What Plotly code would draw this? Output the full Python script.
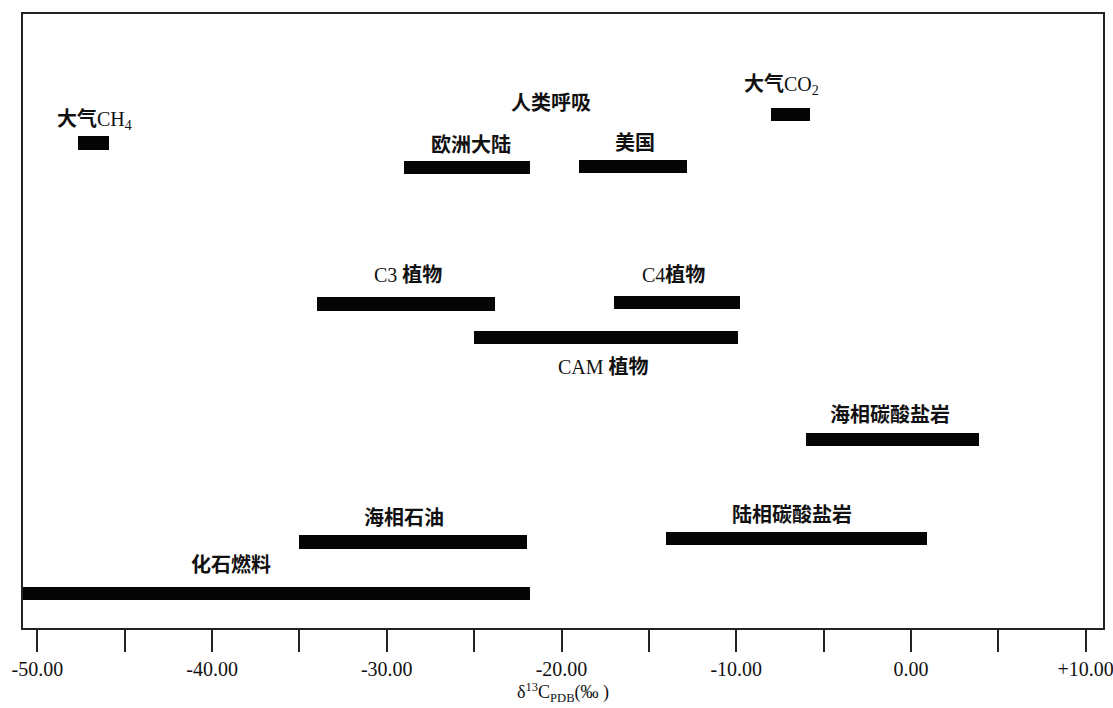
import plotly.graph_objects as go

# ---- data (δ13C ranges, ‰ PDB) ----
bar_names = ["大气CH4", "欧洲大陆", "美国", "大气CO2", "C3植物", "C4植物", "CAM植物",
             "海相碳酸盐岩", "海相石油", "陆相碳酸盐岩", "化石燃料"]
bar_start = [-47.7, -29.0, -19.0, -8.0, -34.0, -17.0, -25.0, -6.0, -35.0, -14.0, -51.5]
bar_end   = [-45.9, -21.8, -12.8, -5.8, -23.8, -9.8, -9.9, 3.9, -22.0, 0.9, -21.8]
bar_row   = [79.0, 75.0, 75.2, 83.6, 52.8, 53.0, 47.3, 30.7, 14.0, 14.6, 5.6]

label_text = ["<b>大气</b>CH<sub>4</sub>", "<b>人类呼吸</b>", "<b>欧洲大陆</b>", "<b>美国</b>",
              "<b>大气</b>CO<sub>2</sub>", "C3 <b>植物</b>", "C4<b>植物</b>", "CAM <b>植物</b>",
              "<b>海相碳酸盐岩</b>", "<b>海相石油</b>", "<b>陆相碳酸盐岩</b>", "<b>化石燃料</b>"]
label_x = [-46.7, -20.6, -25.2, -15.8, -7.4, -28.8, -13.6, -17.6, -1.2, -29.0, -6.8, -38.9]
label_y = [82.7, 85.5, 78.7, 79.0, 88.4, 57.5, 57.5, 42.6, 34.7, 17.9, 18.4, 10.3]

major_ticks = [-50, -40, -30, -20, -10, 0, 10]
major_text = ["-50.00", "-40.00", "-30.00", "-20.00", "-10.00", "0.00", "+10.00"]
minor_ticks = [-45, -35, -25, -15, -5, 5]

FONT = "Liberation Serif, 'Noto Sans CJK SC', serif"

fig = go.Figure()
fig.add_trace(go.Bar(
    orientation="h",
    y=bar_row,
    x=[e - s for s, e in zip(bar_start, bar_end)],
    base=bar_start,
    width=2.2,
    marker=dict(color="#050505", line=dict(width=0)),
    hovertext=bar_names,
    showlegend=False,
))

for t, x, y in zip(label_text, label_x, label_y):
    fig.add_annotation(x=x, y=y, text=t, showarrow=False, xanchor="center", yanchor="middle",
                       font=dict(family=FONT, size=20, color="#111"))

fig.update_layout(
    width=1113, height=708,
    margin=dict(l=23, r=10, t=14, b=80),
    paper_bgcolor="white", plot_bgcolor="white",
    font=dict(family=FONT, size=20, color="#111"),
    bargap=0,
    xaxis=dict(
        range=[-50.82, 10.99],
        automargin=False,
        tickvals=major_ticks, ticktext=major_text,
        ticks="outside", ticklen=22, tickwidth=1.5, tickcolor="#222",
        minor=dict(tickvals=minor_ticks, ticks="outside", ticklen=22, tickwidth=1.5,
                   tickcolor="#222", showgrid=False),
        ticklabeloverflow="allow",
        showline=True, linecolor="#222", linewidth=1.5, mirror=True,
        showgrid=False, zeroline=False,
        tickfont=dict(family=FONT, size=20, color="#111"),
        title=dict(text="δ<sup>13</sup>C<sub>PDB</sub>(‰ )", standoff=4,
                   font=dict(family=FONT, size=18, color="#111")),
    ),
    yaxis=dict(
        range=[0, 100],
        automargin=False,
        showticklabels=False, ticks="",
        showline=True, linecolor="#222", linewidth=1.5, mirror=True,
        showgrid=False, zeroline=False,
    ),
)

fig.write_html("out.html", config={"displayModeBar": False})

# remove the default page margin so the 1113x708 figure fills the window exactly
with open("out.html", "r", encoding="utf-8") as f:
    html = f.read()
html = html.replace("<head>", "<head><style>html,body{margin:0;padding:0;overflow:hidden;}</style>", 1)
with open("out.html", "w", encoding="utf-8") as f:
    f.write(html)
